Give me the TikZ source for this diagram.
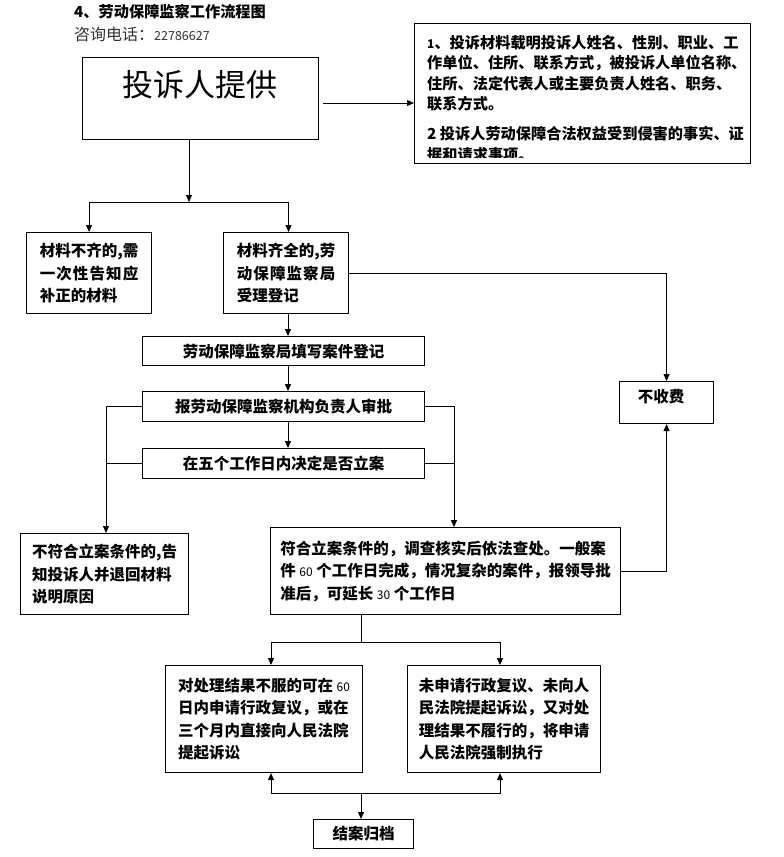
\documentclass[tikz,border=0pt]{standalone}
\usepackage{fontspec}
\setmainfont{Noto Sans CJK SC}
\usetikzlibrary{arrows.meta}
\newcommand\spreadto[2]{\setbox0\hbox{#1}\makebox[\wd0][s]{#2}}
\newcommand\smd[1]{{\mdseries\fontsize{12}{12}\selectfont #1}}
\begin{document}
\begin{tikzpicture}[x=1pt,y=-1pt,
  box/.style={draw, line width=1.1pt, inner sep=0pt, anchor=north west, align=left,
              font=\bfseries\fontsize{15.5}{22.5}\selectfont},
  cbox/.style={box, align=center},
  link/.style={line width=1pt},
  arr/.style={line width=1pt, -{Triangle[width=6pt,length=7pt]}},
  ]
\useasboundingbox (0,0) rectangle (784,857);
\fill[white] (0,0) rectangle (784,857);

% header
\node[anchor=west, inner sep=0, font=\bfseries\fontsize{15.2}{16}\selectfont] (title) at (74,12) {4、劳动保障监察工作流程图};
\node[anchor=west, inner sep=0, text=black!80, font=\fontsize{16}{18}\selectfont] (phone) at (74,34) {咨询电话：{\fontsize{12.5}{14}\selectfont 22786627}};

% top box
\node[box, minimum width=236, minimum height=82] (invest) at (82,57) {};
\node[inner sep=0, font=\fontsize{31}{33}\selectfont] (investtxt) at (200,85) {投诉人提供};

% requirement box
\node[box, minimum width=336, minimum height=140] (req) at (414,23) {};
\begin{scope}
\clip (414,23) rectangle (750,157);
\node[anchor=north west, inner sep=0, align=left, font=\bfseries\fontsize{15.2}{20.5}\selectfont] (reqtxt) at (427,35)
{{\fontsize{12}{12}\selectfont 1}、投诉材料载明投诉人姓名、性别、职业、工\\作单位、住所、联系方式，被投诉人单位名称、\\住所、法定代表人或主要负责人姓名、职务、\\联系方式。\\[9.5pt]2 投诉人劳动保障合法权益受到侵害的事实、证\\据和请求事项。};
\end{scope}

% second row
\node[box, minimum width=125, minimum height=81] (L1) at (26,232)
{材料不齐的,需\\\spreadto{材料不齐的,需}{一\hfill 次\hfill 性\hfill 告\hfill 知\hfill 应}\\补正的材料};
\node[box, minimum width=125, minimum height=81] (L2) at (223,232)
{材料齐全的,劳\\\spreadto{材料齐全的,劳}{动\hfill 保\hfill 障\hfill 监\hfill 察\hfill 局}\\受理登记};
\node[box, minimum width=94, minimum height=42] (fee) at (619,381) {};
\node[inner sep=0, font=\bfseries\fontsize{15.5}{17}\selectfont] (feetxt) at (661,397) {不收费};

% middle column
\node[cbox, minimum width=282, minimum height=29] (fill) at (142,336) {劳动保障监察局填写案件登记};
\node[cbox, minimum width=282, minimum height=30] (appr) at (142,391) {报劳动保障监察机构负责人审批};
\node[cbox, minimum width=282, minimum height=30] (decide) at (142,448) {在五个工作日内决定是否立案};

% decision results
\node[box, minimum width=168, minimum height=81] (reject) at (20,533)
{不符合立案条件的,告\\知投诉人并退回材料\\说明原因};
\node[box, minimum width=350, minimum height=87] (accept) at (270,527)
{符合立案条件的，调查核实后依法查处。一般案\\件 \smd{60} 个工作日完成，情况复杂的案件，报领导批\\准后，可延长 \smd{30} 个工作日};

% bottom
\node[box, minimum width=197, minimum height=107] (appeal) at (165,665)
{对处理结果不服的可在 \smd{60}\\日内申请行政复议，或在\\三个月内直接向人民法院\\提起诉讼};
\node[box, minimum width=193, minimum height=107] (enforce) at (407,665)
{未申请行政复议、未向人\\民法院提起诉讼，又对处\\理结果不履行的，将申请\\人民法院强制执行};
\node[cbox, minimum width=100, minimum height=29] (archive) at (313,819) {结案归档};

% connectors
\coordinate (j1) at (189,202);
\draw[arr] (invest.south -| j1) -- (j1);
\draw[arr] (j1) -| (L1.north);
\draw[arr] (j1) -| ([xshift=2.5pt]L2.north);
\coordinate (a1) at (323,103);
\draw[arr] (a1) -- (a1 -| req.west);
\draw[arr] (L2.east) -| (fee.north);

\coordinate (spine) at (288,0);
\draw[arr] (L2.south -| spine) -- (fill.north -| spine);
\draw[arr] (fill.south -| spine) -- (appr.north -| spine);
\draw[arr] (appr.south -| spine) -- (decide.north -| spine);

\coordinate (lx) at (106,0);
\coordinate (rx) at (454,0);
\draw[arr] (appr.west) -| (reject.north -| lx);
\draw[link] (decide.west) -- (decide.west -| lx);
\draw[arr] (appr.east) -| (accept.north -| rx);
\draw[link] (decide.east) -- (decide.east -| rx);
\draw[arr] (accept.east) -| (fee.south);

\coordinate (cL) at (271,0);
\coordinate (cR) at (500,0);
\coordinate (j2) at (361,642);
\draw[link] (accept.south -| j2) -- (j2);
\draw[arr] (j2) -| (appeal.north -| cL);
\draw[arr] (j2) -| (enforce.north -| cR);
\coordinate (j3) at (361,793);
\draw[arr] (j3) -| (appeal.south -| cL);
\draw[arr] (j3) -| (enforce.south -| cR);
\draw[arr] (j3) -- (archive.north -| j3);
\end{tikzpicture}
\end{document}
